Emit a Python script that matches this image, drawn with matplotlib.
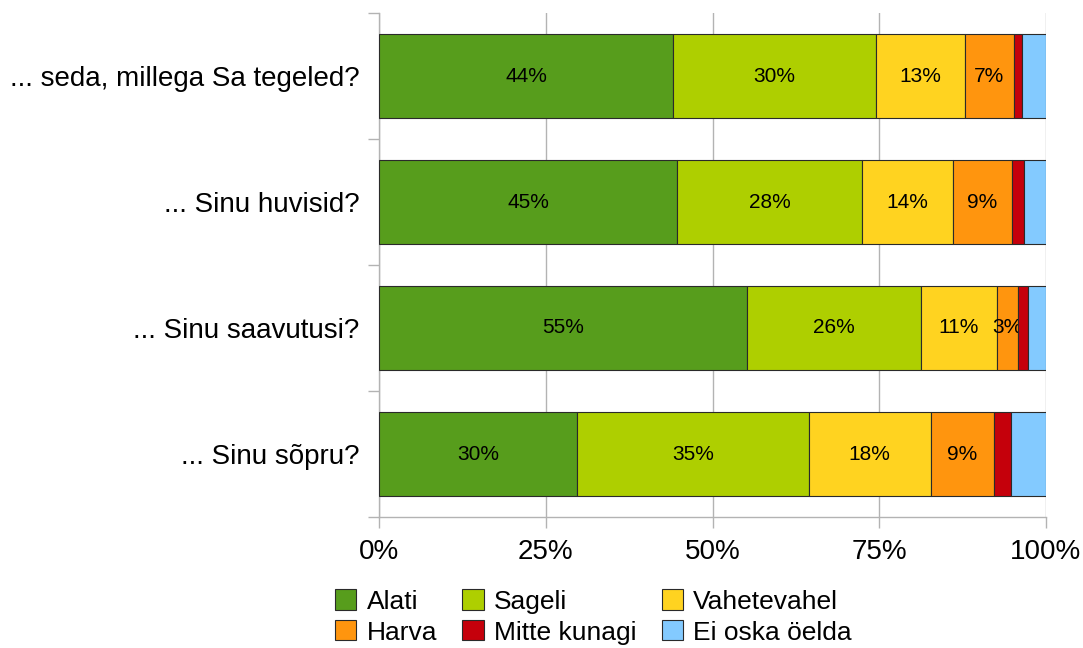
import matplotlib
matplotlib.use("Agg")
import matplotlib.pyplot as plt
import numpy as np

plt.rcParams['font.family'] = ['Liberation Sans', 'DejaVu Sans']

# andmed (protsent vastanutest)
kysimused = ['... seda, millega Sa tegeled?', '... Sinu huvisid?',
             '... Sinu saavutusi?', '... Sinu sõpru?']
vastused = ['Alati', 'Sageli', 'Vahetevahel', 'Harva', 'Mitte kunagi', 'Ei oska öelda']
alati = [44.1, 44.7, 55.2, 29.7]
sageli = [30.4, 27.7, 26.0, 34.7]
vahetevahel = [13.3, 13.6, 11.4, 18.35]
harva = [7.4, 8.9, 3.2, 9.4]
mitte_kunagi = [1.15, 1.75, 1.56, 2.6]
ei_oska = [3.6, 3.35, 2.6, 5.3]
xticks = [0, 25, 50, 75, 100]
xtick_labels = ['0%', '25%', '50%', '75%', '100%']

varvid = ['#579d1c', '#aecf00', '#ffd320', '#ff950e', '#c5000b', '#83caff']
seeriad = [alati, sageli, vahetevahel, harva, mitte_kunagi, ei_oska]
n_sildiga = 4  # numbrid ainult esimesel neljal seerial

fig = plt.figure(figsize=(10.83, 6.48), dpi=100)
ax = fig.add_axes([379/1083, 1 - 517/648, (1046 - 379)/1083, (517 - 13)/648])

y = np.arange(len(kysimused))
vasak = np.zeros(len(kysimused))
handles = []
for i, (nimi, vaartused, v) in enumerate(zip(vastused, seeriad, varvid)):
    vaartused = np.array(vaartused)
    bars = ax.barh(y, vaartused, left=vasak, height=0.67, color=v,
                   edgecolor='#2a2a2a', linewidth=0.8, label=nimi, zorder=3)
    handles.append(bars)
    if i < n_sildiga:
        ax.bar_label(bars, labels=[f'{a:.0f}%' for a in vaartused],
                     label_type='center', fontsize=15, color='black')
    vasak = vasak + vaartused

ax.set_xlim(0, 100)
ax.set_ylim(len(kysimused) - 0.5, -0.5)
ax.set_xticks(xticks)
ax.set_xticklabels(xtick_labels, fontsize=20)
ax.set_yticks(y)
ax.set_yticklabels(kysimused, fontsize=20)
ax.set_yticks(np.arange(len(kysimused) + 1) - 0.5, minor=True)
ax.tick_params(axis='y', which='major', length=0, pad=14)
ax.tick_params(axis='y', which='minor', length=8, color='#b3b3b3', width=1)
ax.tick_params(axis='x', length=8, color='#b3b3b3', width=1, pad=8)
ax.grid(axis='x', color='#b3b3b3', linewidth=1, zorder=0)
for s in ['top', 'right']:
    ax.spines[s].set_visible(False)
for s in ['left', 'bottom']:
    ax.spines[s].set_color('#b3b3b3')
    ax.spines[s].set_linewidth(1)

# legend: veergude kaupa täitmine
jarjekord = [0, 3, 1, 4, 2, 5]
fig.legend([handles[k] for k in jarjekord], [vastused[k] for k in jarjekord],
           loc='center left', bbox_to_anchor=(322/1083, 1 - 617/648),
           ncol=3, frameon=False, fontsize=19, borderpad=0,
           handlelength=0.8, handleheight=0.8, handletextpad=0.4,
           columnspacing=0.95, labelspacing=0.25)

fig.savefig('out.png', dpi=100)
